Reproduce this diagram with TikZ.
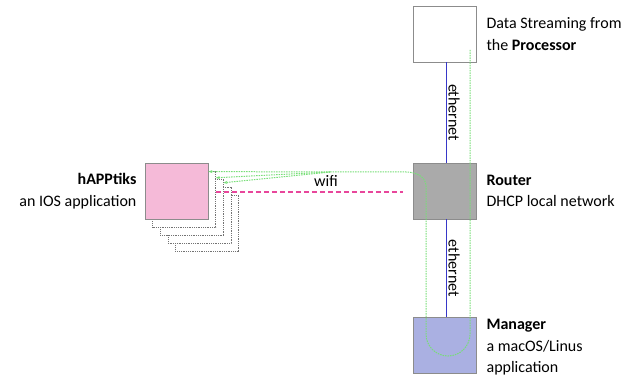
\documentclass[tikz,border=0pt]{standalone}
\usepackage{fontspec}
\setmainfont{Carlito}
\usepackage{tikz}
\usetikzlibrary{arrows.meta,positioning}
\usepackage{xcolor}

\definecolor{boxline}{RGB}{140,140,140}
\definecolor{routerfill}{RGB}{170,170,170}
\definecolor{managerfill}{RGB}{170,176,226}
\definecolor{appfill}{RGB}{245,186,216}
\definecolor{ethline}{RGB}{55,55,200}
\definecolor{radiopink}{RGB}{232,70,155}
\definecolor{flowline}{RGB}{120,222,120}

\begin{document}
\begin{tikzpicture}[x=1pt, y=1pt,
  node distance=10pt,
  font=\fontsize{16}{21.5}\selectfont,
  box/.style={rectangle, draw=boxline, thick, minimum width=63pt, minimum height=56pt, inner sep=0pt},
  shadowbox/.style={box, fill=white, draw=black!55, densely dotted, thin},
  caption/.style={align=left, inner sep=0pt},
  eth/.style={draw=ethline, thick},
  wifi/.style={radiopink, line width=1.3pt, dash pattern=on 5pt off 3pt},
  flow/.style={draw=flowline, line width=1pt, dash pattern=on 1.5pt off 1pt},
  arr/.style={-{Stealth[length=4pt, width=3pt]}}]
\useasboundingbox (0,0) rectangle (635,380);

% devices on the wired side
\node[box, fill=white] (proc) at (444.5,346) {};
\node[box, fill=routerfill] (router) at (444.5,189) {};
\node[box, fill=managerfill] (manager) at (444.5,34.5) {};

% several phones running the app, stacked behind each other
\foreach \i in {4,3,2,1}
  \node[shadowbox, xshift=\i*7.6, yshift=-\i*8] (app\i) at (176.5,189) {};
\node[box, fill=appfill] (app) at (176.5,189) {};

% captions
\node[caption, right=of proc] (proclbl) {Data Streaming from\\the \textbf{Processor}};
\node[caption, right=of router] (routerlbl) {\textbf{Router}\\DHCP local network};
\node[caption, right=of manager, yshift=-2pt] (managerlbl) {\textbf{Manager}\\a macOS/Linus\\application};
\node[caption, align=right, left=8pt of app] (applbl) {\textbf{hAPPtiks}\\an IOS application};

% links
\draw[eth] ([xshift=1.5pt]proc.south) -- node[anchor=south, rotate=-90, inner sep=2pt] {ethernet} ([xshift=1.5pt]router.north);
\draw[eth] ([xshift=1.5pt]router.south) -- node[anchor=south, rotate=-90, inner sep=2pt] {ethernet} ([xshift=1.5pt]manager.north);
\coordinate (wifistart) at (app1.east |- 0,188);
\coordinate (wifiend) at ([xshift=-10pt]router.west |- 0,188);
\draw[wifi] (wifistart) -- node[above=2pt, pos=0.59, text=black] (wifilbl) {wifi} (wifiend);

% data path from the processor through the manager out to the phones
\coordinate (split) at (330,208);
\draw[flow] (470,330) -- (470,46) arc[start angle=0, end angle=-180, radius=22] -- (426,194)
  to[out=90, in=0] (406,208) -- (split);
\draw[flow, arr] (split) -- ([yshift=-9pt]app.north east);
\draw[flow, arr] (split) -- ([yshift=-7pt]app1.north east);
\draw[flow, arr] (split) -- ([yshift=-4pt]app2.north east);
\end{tikzpicture}
\end{document}
